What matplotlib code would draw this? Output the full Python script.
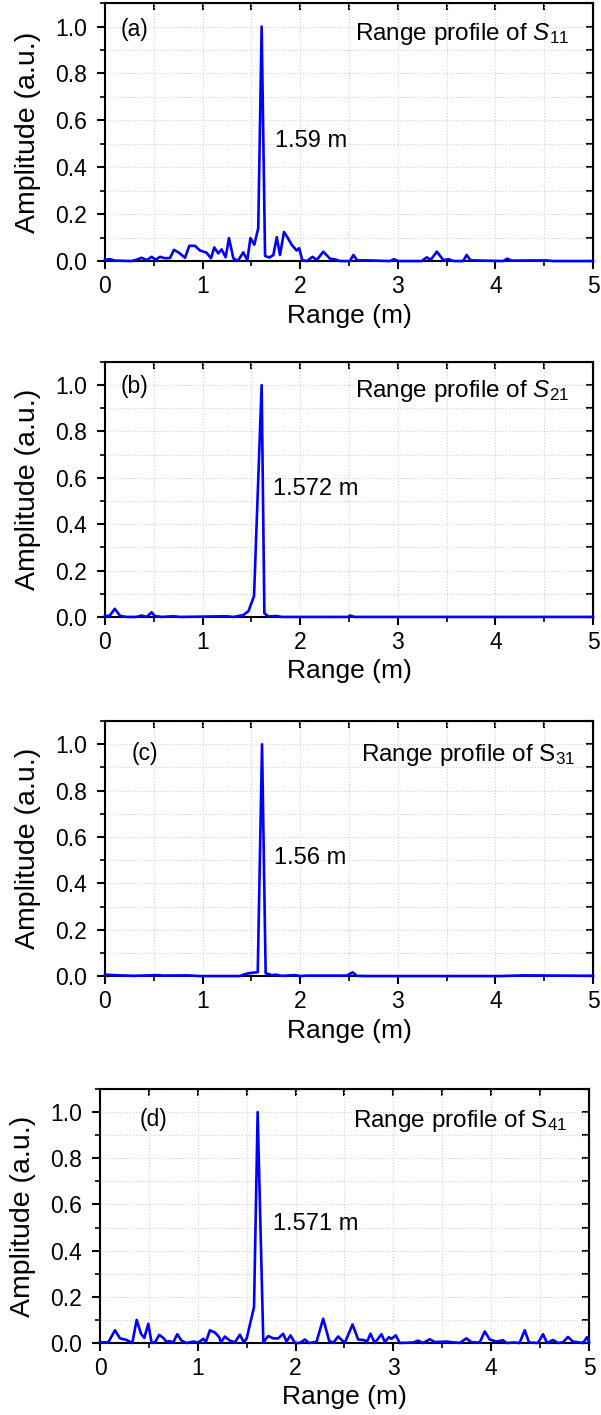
import numpy as np
import matplotlib
matplotlib.use('Agg')
import matplotlib.pyplot as plt
from matplotlib.ticker import MultipleLocator

plt.rcParams['font.family'] = ['Liberation Sans', 'DejaVu Sans']
plt.rcParams['mathtext.fontset'] = 'custom'
plt.rcParams['mathtext.rm'] = 'Liberation Sans'
plt.rcParams['mathtext.it'] = 'Liberation Sans:italic'

# panel (a): S11 range profile, vertices
x_a = [0.0, 0.05, 0.10, 0.27, 0.32, 0.376, 0.427, 0.478, 0.52, 0.564, 0.615, 0.666,
       0.707, 0.76, 0.82, 0.864, 0.922, 0.973, 1.04, 1.086, 1.12, 1.16, 1.195, 1.236,
       1.27, 1.315, 1.36, 1.417, 1.458, 1.49, 1.53, 1.57, 1.605, 1.64, 1.684, 1.725,
       1.76, 1.793, 1.834, 1.868, 1.912, 1.964, 1.99, 2.02, 2.07, 2.125, 2.17, 2.237,
       2.305, 2.357, 2.41, 2.51, 2.545, 2.585, 2.68, 2.92, 2.96, 3.005, 3.245, 3.296,
       3.337, 3.4, 3.467, 3.52, 3.57, 3.67, 3.705, 3.746, 4.08, 4.12, 4.167, 4.525,
       4.59, 5.0]
y_a = [0.005, 0.008, 0.002, 0.0, 0.005, 0.014, 0.004, 0.018, 0.006, 0.018, 0.012, 0.013,
       0.048, 0.035, 0.014, 0.065, 0.065, 0.045, 0.036, 0.012, 0.058, 0.033, 0.05, 0.016,
       0.098, 0.012, 0.0, 0.037, 0.003, 0.098, 0.07, 0.14, 1.0, 0.022, 0.015, 0.026,
       0.102, 0.026, 0.124, 0.102, 0.07, 0.045, 0.055, 0.004, 0.0, 0.018, 0.005, 0.04,
       0.01, 0.007, 0.0, 0.0, 0.026, 0.003, 0.003, 0.0, 0.008, 0.0, 0.0, 0.016,
       0.005, 0.04, 0.004, 0.008, 0.0, 0.0, 0.026, 0.003, 0.0, 0.01, 0.002, 0.003,
       0.0, 0.0]

# panel (b): S21
x_b = [0.0, 0.05, 0.10, 0.154, 0.22, 0.32, 0.376, 0.427, 0.478, 0.51, 0.58, 0.70,
       0.77, 1.247, 1.315, 1.417, 1.47, 1.527, 1.605, 1.633, 1.673, 1.76, 1.81, 2.49,
       2.51, 2.56, 5.0]
y_b = [0.003, 0.006, 0.035, 0.005, 0.0, 0.0, 0.006, 0.0, 0.02, 0.004, 0.0, 0.003,
       0.0, 0.003, 0.0, 0.008, 0.025, 0.09, 1.0, 0.016, 0.002, 0.004, 0.0, 0.0,
       0.006, 0.0, 0.0]

# panel (c): S31
x_c = [0.0, 0.085, 0.29, 0.546, 0.6, 0.837, 0.97, 1.38, 1.417, 1.47, 1.51, 1.565,
       1.609, 1.646, 1.71, 1.75, 1.81, 1.95, 2.0, 2.07, 2.476, 2.537, 2.58, 2.68,
       4.05, 4.29, 5.0]
y_c = [0.006, 0.004, 0.001, 0.004, 0.002, 0.003, 0.0, 0.0, 0.006, 0.012, 0.014, 0.017,
       1.0, 0.012, 0.004, 0.006, 0.001, 0.004, 0.0, 0.002, 0.002, 0.016, 0.001, 0.0,
       0.0, 0.003, 0.001]

# panel (d): S41
x_d = [0.0, 0.085, 0.153, 0.204, 0.272, 0.33, 0.375, 0.419, 0.453, 0.494, 0.528, 0.562,
       0.606, 0.647, 0.681, 0.715, 0.749, 0.79, 0.834, 0.886, 0.954, 1.005, 1.056, 1.083,
       1.124, 1.175, 1.219, 1.236, 1.277, 1.328, 1.38, 1.43, 1.471, 1.5, 1.575, 1.612,
       1.67, 1.72, 1.771, 1.822, 1.873, 1.907, 1.948, 1.993, 2.044, 2.095, 2.136, 2.214,
       2.282, 2.343, 2.384, 2.435, 2.503, 2.582, 2.64, 2.708, 2.725, 2.766, 2.81, 2.878,
       2.912, 2.956, 2.98, 3.025, 3.065, 3.2, 3.253, 3.304, 3.372, 3.423, 3.542, 3.678,
       3.747, 3.798, 3.883, 3.934, 3.985, 4.053, 4.121, 4.155, 4.24, 4.29, 4.343, 4.387,
       4.479, 4.53, 4.571, 4.632, 4.683, 4.734, 4.785, 4.836, 4.939, 4.98, 5.0]
y_d = [0.003, 0.003, 0.055, 0.02, 0.013, 0.0, 0.1, 0.04, 0.022, 0.083, 0.0, 0.003,
       0.035, 0.022, 0.005, 0.008, 0.002, 0.038, 0.01, 0.0, 0.006, 0.002, 0.018, 0.005,
       0.055, 0.045, 0.025, 0.003, 0.028, 0.01, 0.003, 0.036, 0.003, 0.02, 0.156, 1.0,
       0.003, 0.03, 0.02, 0.02, 0.04, 0.006, 0.033, 0.0, 0.0, 0.015, 0.0, 0.005,
       0.105, 0.01, 0.0, 0.028, 0.0, 0.08, 0.015, 0.012, 0.0, 0.04, 0.0, 0.038,
       0.005, 0.025, 0.018, 0.033, 0.0, 0.002, 0.01, 0.0, 0.016, 0.004, 0.006, 0.0,
       0.02, 0.003, 0.002, 0.05, 0.015, 0.006, 0.012, 0.0, 0.002, 0.0, 0.055, 0.002,
       0.0, 0.038, 0.0, 0.013, 0.0, 0.003, 0.026, 0.006, 0.0, 0.025, 0.005]

xs = [x_a, x_b, x_c, x_d]
ys = [y_a, y_b, y_c, y_d]
tags = ['(a)', '(b)', '(c)', '(d)']
titles = [r'Range profile of $S_{11}$', r'Range profile of $S_{21}$',
          r'Range profile of $\mathrm{S}_{31}$', r'Range profile of $\mathrm{S}_{41}$']
peaks = ['1.59 m', '1.572 m', '1.56 m', '1.571 m']

# axes boxes in figure fraction [left, bottom, width, height]
boxes = [[0.1747, 0.8155, 0.812, 0.1823],
         [0.1747, 0.5640, 0.812, 0.1802],
         [0.1747, 0.3102, 0.812, 0.1802],
         [0.1664, 0.0509, 0.8136, 0.1795]]
tag_pos = [(0.16, 0.987), (0.16, 0.996), (0.27, 0.961), (0.41, 0.97)]
title_pos = [(4.76, 0.97), (4.76, 0.974), (4.82, 0.953), (4.78, 0.961)]
peak_pos = [(1.74, 0.51), (1.72, 0.55), (1.73, 0.509), (1.77, 0.517)]

fig = plt.figure(figsize=(6.01, 14.15), dpi=100)

for i in range(4):
    ax = fig.add_axes(boxes[i])
    ax.plot(xs[i], ys[i], color='#0000FF', lw=1.9, clip_on=False, zorder=3)
    ax.set_xlim(0, 5)
    ax.set_ylim(0, 1.1)
    ax.xaxis.set_major_locator(MultipleLocator(1))
    ax.xaxis.set_minor_locator(MultipleLocator(0.5))
    ax.yaxis.set_major_locator(MultipleLocator(0.2))
    ax.yaxis.set_minor_locator(MultipleLocator(0.1))
    ax.grid(True, which='both', color='#d4d4d4', ls=':', lw=0.8)
    ax.set_axisbelow(True)
    for s in ax.spines.values():
        s.set_linewidth(1.5)
    ax.tick_params(which='major', direction='out', length=6, width=1.5, labelsize=16.5)
    ax.tick_params(which='minor', direction='out', length=3.5, width=1.2)
    ax.tick_params(axis='x', which='major', pad=4)
    ax.tick_params(axis='y', which='major', pad=7)
    ax.yaxis.set_major_formatter(plt.FormatStrFormatter('%.1f'))

    # inward ticks on top and right
    top = ax.secondary_xaxis('top')
    top.set_xticks(np.arange(0, 5.01, 0.5))
    top.tick_params(direction='in', length=5, width=1.5, labeltop=False)
    right = ax.secondary_yaxis('right')
    right.set_yticks(np.arange(0, 1.11, 0.1))
    right.tick_params(direction='in', length=5, width=1.5, labelright=False)

    ax.set_xlabel('Range (m)', fontsize=19, labelpad=4)
    ax.set_ylabel('Amplitude (a.u.)', fontsize=20.5, labelpad=10)

    ax.text(tag_pos[i][0], tag_pos[i][1], tags[i], fontsize=16.5, ha='left', va='center')
    ax.text(title_pos[i][0], title_pos[i][1], titles[i], fontsize=17.5, ha='right', va='center')
    ax.text(peak_pos[i][0], peak_pos[i][1], peaks[i], fontsize=17, ha='left', va='center')

plt.savefig('out.png', dpi=100)
